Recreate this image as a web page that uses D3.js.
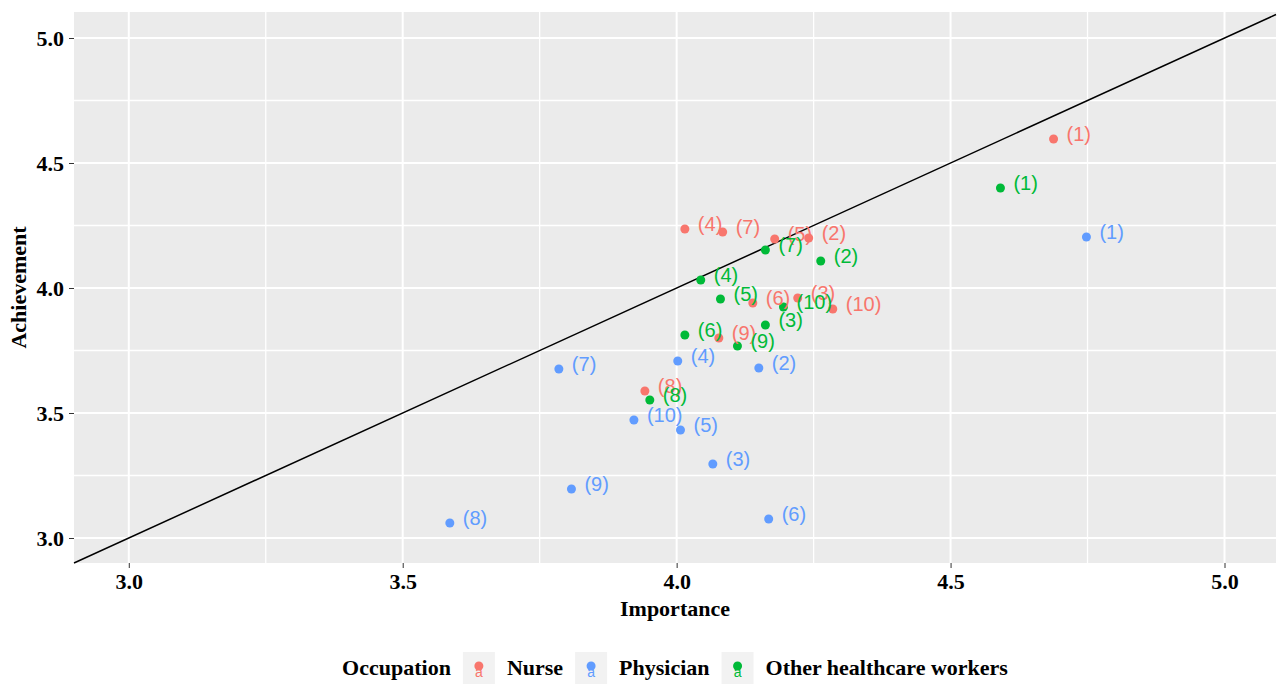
<!DOCTYPE html>
<html>
<head>
<meta charset="utf-8">
<script src="https://cdn.jsdelivr.net/npm/d3@7"></script>
<style>
  body { margin: 0; background: #fff; }
  .tick text { font-family: "Liberation Serif", "Times New Roman", serif; font-weight: bold; font-size: 22px; fill: #000; }
  .tick line { stroke: #333; }
</style>
</head>
<body>
<script>
var width = 1280, height = 685;

// point labels (same order in every group)
var pointLabels = ["(1)", "(2)", "(3)", "(4)", "(5)", "(6)", "(7)", "(8)", "(9)", "(10)"];

// Nurse
var nurseImportance  = [4.688, 4.241, 4.221, 4.015, 4.179, 4.139, 4.084, 3.942, 4.077, 4.285];
var nurseAchievement = [4.596, 4.200, 3.960, 4.236, 4.196, 3.940, 4.224, 3.588, 3.800, 3.916];

// Physician
var physicianImportance  = [4.748, 4.150, 4.066, 4.002, 4.007, 4.168, 3.785, 3.586, 3.808, 3.922];
var physicianAchievement = [4.204, 3.680, 3.296, 3.708, 3.432, 3.076, 3.676, 3.060, 3.196, 3.472];

// Other healthcare workers
var otherImportance  = [4.591, 4.263, 4.162, 4.044, 4.080, 4.015, 4.162, 3.951, 4.111, 4.195];
var otherAchievement = [4.400, 4.108, 3.852, 4.032, 3.956, 3.812, 4.152, 3.552, 3.768, 3.924];

var groups = ["Nurse", "Physician", "Other healthcare workers"];
var groupColors = ["#F8766D", "#619CFF", "#00BA38"];

var majorTicks = [3.0, 3.5, 4.0, 4.5, 5.0];
var minorTicks = [3.25, 3.75, 4.25, 4.75];

// build rows for drawing
var series = [
  [nurseImportance, nurseAchievement],
  [physicianImportance, physicianAchievement],
  [otherImportance, otherAchievement]
];
var points = [];
series.forEach(function(s, gi) {
  s[0].forEach(function(v, i) {
    points.push({group: groups[gi], x: v, y: s[1][i], label: pointLabels[i]});
  });
});

var color = d3.scaleOrdinal().domain(groups).range(groupColors);

var x = d3.scaleLinear().domain([2.9, 5.094]).range([74, 1276]);
var y = d3.scaleLinear().domain([2.9, 5.104]).range([563, 12]);

var svg = d3.select("body").append("svg")
    .attr("width", width)
    .attr("height", height);

// panel
svg.append("rect")
  .attr("x", x.range()[0])
  .attr("y", y.range()[1])
  .attr("width", x.range()[1] - x.range()[0])
  .attr("height", y.range()[0] - y.range()[1])
  .attr("fill", "#EBEBEB");

var grid = svg.append("g");

// minor grid
grid.selectAll("line.vminor").data(minorTicks).enter().append("line")
  .attr("x1", x).attr("x2", x)
  .attr("y1", y.range()[0]).attr("y2", y.range()[1])
  .attr("stroke", "#fff").attr("stroke-width", 1.3);
grid.selectAll("line.hminor").data(minorTicks).enter().append("line")
  .attr("y1", y).attr("y2", y)
  .attr("x1", x.range()[0]).attr("x2", x.range()[1])
  .attr("stroke", "#fff").attr("stroke-width", 1.3);

// major grid
grid.selectAll("line.vmajor").data(majorTicks).enter().append("line")
  .attr("x1", x).attr("x2", x)
  .attr("y1", y.range()[0]).attr("y2", y.range()[1])
  .attr("stroke", "#fff").attr("stroke-width", 2);
grid.selectAll("line.hmajor").data(majorTicks).enter().append("line")
  .attr("y1", y).attr("y2", y)
  .attr("x1", x.range()[0]).attr("x2", x.range()[1])
  .attr("stroke", "#fff").attr("stroke-width", 2);

// y = x reference line
var lo = x.domain()[0], hi = x.domain()[1];
svg.append("line")
  .attr("x1", x(lo)).attr("y1", y(lo))
  .attr("x2", x(hi)).attr("y2", y(hi))
  .attr("stroke", "#000").attr("stroke-width", 1.5);

// points
svg.append("g").selectAll("circle")
  .data(points).enter().append("circle")
  .attr("cx", function(d) { return x(d.x); })
  .attr("cy", function(d) { return y(d.y); })
  .attr("r", 4.5)
  .attr("fill", function(d) { return color(d.group); });

// labels
svg.append("g").selectAll("text")
  .data(points).enter().append("text")
  .attr("x", function(d) { return x(d.x) + 13; })
  .attr("y", function(d) { return y(d.y) + 2; })
  .attr("font-family", "'Liberation Sans', Arial, sans-serif")
  .attr("font-size", 20)
  .attr("fill", function(d) { return color(d.group); })
  .text(function(d) { return d.label; });

// axes
var xAxis = svg.append("g")
  .attr("transform", "translate(0," + y.range()[0] + ")")
  .call(d3.axisBottom(x).tickValues(majorTicks).tickFormat(d3.format(".1f")).tickSize(5).tickPadding(5));
xAxis.select(".domain").remove();

var yAxis = svg.append("g")
  .attr("transform", "translate(" + x.range()[0] + ",0)")
  .call(d3.axisLeft(y).tickValues(majorTicks).tickFormat(d3.format(".1f")).tickSize(5).tickPadding(5));
yAxis.select(".domain").remove();

// axis titles
svg.append("text")
  .attr("x", (x.range()[0] + x.range()[1]) / 2)
  .attr("y", 616)
  .attr("text-anchor", "middle")
  .attr("font-family", "'Liberation Serif', 'Times New Roman', serif")
  .attr("font-weight", "bold")
  .attr("font-size", 22)
  .text("Importance");

svg.append("text")
  .attr("transform", "translate(26," + (y.range()[0] + y.range()[1]) / 2 + ") rotate(-90)")
  .attr("text-anchor", "middle")
  .attr("font-family", "'Liberation Serif', 'Times New Roman', serif")
  .attr("font-weight", "bold")
  .attr("font-size", 22)
  .text("Achievement");

// legend
var legend = svg.append("g");
var legendY = 668;
var cursor = 0;

var title = legend.append("text")
  .attr("x", cursor).attr("y", legendY + 7)
  .attr("font-family", "'Liberation Serif', 'Times New Roman', serif")
  .attr("font-weight", "bold")
  .attr("font-size", 22)
  .text("Occupation");
cursor += title.node().getComputedTextLength() + 12;

groups.forEach(function(g) {
  legend.append("rect")
    .attr("x", cursor).attr("y", legendY - 16)
    .attr("width", 32).attr("height", 32)
    .attr("fill", "#F2F2F2");
  legend.append("circle")
    .attr("cx", cursor + 16).attr("cy", legendY - 2)
    .attr("r", 4.5)
    .attr("fill", color(g));
  legend.append("text")
    .attr("x", cursor + 16).attr("y", legendY + 9)
    .attr("text-anchor", "middle")
    .attr("font-family", "'Liberation Sans', Arial, sans-serif")
    .attr("font-size", 14)
    .attr("fill", color(g))
    .text("a");
  cursor += 32 + 12;
  var t = legend.append("text")
    .attr("x", cursor).attr("y", legendY + 7)
    .attr("font-family", "'Liberation Serif', 'Times New Roman', serif")
    .attr("font-weight", "bold")
    .attr("font-size", 22)
    .text(g);
  cursor += t.node().getComputedTextLength() + 12;
});
cursor -= 12;
legend.attr("transform", "translate(" + ((x.range()[0] + x.range()[1]) / 2 - cursor / 2) + ",0)");
</script>
</body>
</html>
